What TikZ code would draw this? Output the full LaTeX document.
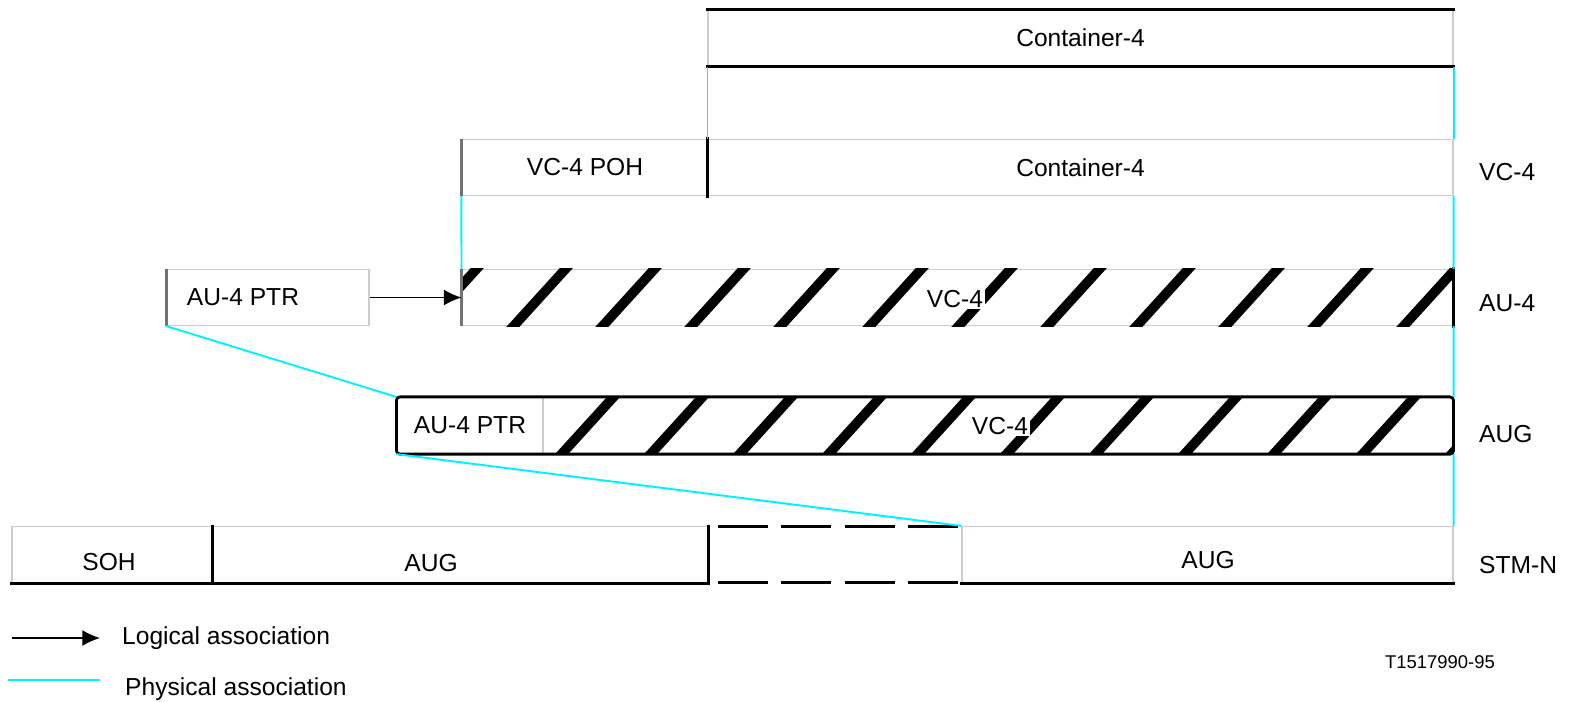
\documentclass[tikz,border=0pt]{standalone}
\usepackage{fontspec}
\setmainfont{Liberation Sans}
\usetikzlibrary{arrows.meta}

\definecolor{physcol}{RGB}{0,242,255}
\definecolor{rulecol}{RGB}{205,205,205}
\definecolor{edgecol}{RGB}{115,115,115}

\begin{document}
\begin{tikzpicture}[x=0.02cm, y=-0.02cm,
    cell/.style={draw=rulecol, line width=0.7pt, minimum height=1.12cm,
      inner sep=0pt, font=\fontsize{14}{16}\selectfont},
    blackedge/.style={line width=1.6pt, line cap=rect},
    greyedge/.style={draw=edgecol, line width=2pt},
    physical/.style={draw=physcol, line width=1.1pt},
    logical/.style={line width=0.8pt, -{Latex[length=10pt, width=9pt]}},
    stripe/.style={line width=5.5pt},
    tag/.style={anchor=west, font=\fontsize{14}{16}\selectfont}]
  \useasboundingbox (0,0) rectangle (1571,701);

  % Rows of the multiplexing structure
  \node[cell, minimum width=14.9cm] (ctop) at (1080.5,38) {Container-4};

  \node[cell, minimum width=4.92cm] (poh) at (585,167.5) {VC-4 POH};
  \node[cell, minimum width=14.9cm] (cont) at (1080.5,167.5) {Container-4};

  \node[cell, minimum width=4.04cm] (ptrA) at (268,297.5) {};
  \node[cell, minimum width=19.82cm] (vcA) at (957.5,297.5) {};

  \node[cell, minimum width=2.92cm] (ptrB) at (470,425.5) {AU-4 PTR};
  \node[cell, minimum width=18.2cm] (vcB) at (998,425.5) {};

  \node[cell, minimum width=4cm] (soh) at (112,554.5) {};
  \node[cell, minimum width=9.92cm] (augL) at (460,554.5) {};
  \node[minimum width=5.08cm, minimum height=1.12cm, inner sep=0pt] (gap) at (835,554.5) {};
  \node[cell, minimum width=9.82cm] (augR) at (1207.5,554.5) {};

  % Hatching of the two VC-4 fields
  \begin{scope}
    \clip (vcA.north west) rectangle (vcA.south east);
    \foreach \t in {476,565,...,1544}
      \draw[stripe] (\t+5,264) -- ++(-60,66);
  \end{scope}
  \begin{scope}
    \clip (vcB.north west) rectangle (vcB.south east);
    \foreach \t in {524,613,...,1592}
      \draw[stripe] (\t+5,392) -- ++(-60,66);
  \end{scope}

  \node[fill=white, inner sep=1pt, font=\fontsize{14}{16}\selectfont] (vcAtxt) at (955,299) {VC-4};
  \node[fill=white, inner sep=1pt, font=\fontsize{14}{16}\selectfont] (vcBtxt) at (1000,426) {VC-4};
  \node[font=\fontsize{14}{16}\selectfont] (ptrAtxt) at (243,297) {AU-4 PTR};
  \node[font=\fontsize{14}{16}\selectfont] (sohtxt) at (109,562) {SOH};
  \node[font=\fontsize{14}{16}\selectfont] (augLtxt) at (431,563) {AUG};
  \node[font=\fontsize{14}{16}\selectfont] (augRtxt) at (1208,560) {AUG};

  % Solid outlines
  \draw[blackedge] (ctop.north west) -- (ctop.north east);
  \draw[blackedge] (ctop.south west) -- (ctop.south east);
  \draw[blackedge] (cont.north west) -- (cont.south west);
  \draw[greyedge] (poh.north west) -- (poh.south west);
  \draw[greyedge] (ptrA.north west) -- (ptrA.south west);
  \draw[greyedge] (vcA.north west) -- (vcA.south west);
  \draw[blackedge] (vcA.north east) -- (vcA.south east);
  \draw[blackedge, rounded corners=2pt] (ptrB.north west) rectangle (vcB.south east);
  \draw[blackedge] (soh.north east) -- (soh.south east);
  \draw[blackedge] (augL.north east) -- (augL.south east);
  \draw[blackedge] (soh.south west) -- (augL.south east);
  \draw[blackedge] (augR.south west) -- (augR.south east);
  \draw[blackedge, line cap=butt, dash pattern=on 1cm off 0.27cm]
    ([xshift=0.2cm]gap.north west) -- (gap.north east);
  \draw[blackedge, line cap=butt, dash pattern=on 1cm off 0.27cm]
    ([xshift=0.2cm]gap.south west) -- (gap.south east);

  % Physical association
  \draw[physical] (ctop.south west) -- (cont.north west);
  \draw[physical] (ctop.south east) -- (cont.north east);
  \draw[physical] (poh.south west) -- (vcA.north west);
  \draw[physical] (cont.south east) -- (vcA.north east);
  \draw[physical] (ptrA.south west) -- (ptrB.north west);
  \draw[physical] (vcA.south east) -- (vcB.north east);
  \draw[physical] (ptrB.south west) -- (augR.north west);
  \draw[physical] (vcB.south east) -- (augR.north east);

  % Logical association
  \draw[logical] (ptrA.east) -- (vcA.west);

  % Layer names
  \node[tag] (tVC) at (1473,172) {VC-4};
  \node[tag] (tAU) at (1473,303) {AU-4};
  \node[tag] (tAUG) at (1473,434) {AUG};
  \node[tag] (tSTM) at (1473,565) {STM-N};

  % Legend
  \coordinate (lgA) at (12,638);
  \coordinate (lgB) at (100,638);
  \coordinate (lgC) at (8,680);
  \coordinate (lgD) at (100,680);
  \draw[logical] (lgA) -- (lgB);
  \draw[physical] (lgC) -- (lgD);
  \node[tag] (lgLog) at (116,638) {Logical association};
  \node[tag] (lgPhys) at (119,689) {Physical association};

  \node[font=\fontsize{10.5}{12}\selectfont] (fig) at (1440,662) {T1517990-95};
\end{tikzpicture}
\end{document}
